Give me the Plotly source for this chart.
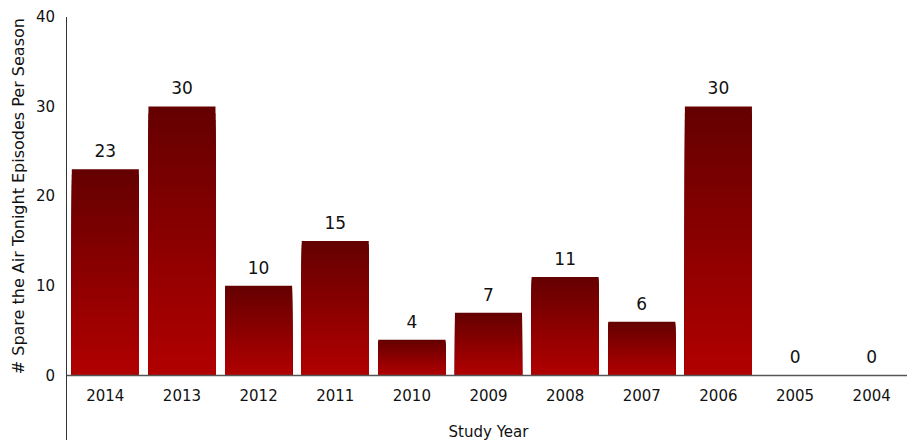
import plotly.graph_objects as go

# Data
years = ['2014', '2013', '2012', '2011', '2010', '2009', '2008', '2007', '2006', '2005', '2004']
episodes = [23, 30, 10, 15, 4, 7, 11, 6, 30, 0, 0]

FONT = 'DejaVu Sans'
TOP_RGB = (0x64, 0x00, 0x00)
BOTTOM_RGB = (0xB2, 0x00, 0x00)
N_STEPS = 40


def blend(t):
    # t=0 bottom, t=1 top
    r, g, b = (round(BOTTOM_RGB[i] + (TOP_RGB[i] - BOTTOM_RGB[i]) * t) for i in range(3))
    return f'rgb({r},{g},{b})'


fig = go.Figure()

# Vertical gradient: overlay progressively shorter copies of each bar,
# darkest (full height) first, brightest (shortest) last
for k in range(N_STEPS):
    frac = (N_STEPS - k) / N_STEPS
    fig.add_trace(go.Bar(
        x=years,
        y=[v * frac for v in episodes],
        marker=dict(color=blend(frac - 0.5 / N_STEPS), line=dict(width=0)),
        width=0.875,
        hoverinfo='skip',
        showlegend=False,
    ))

# Value labels above the bars
fig.add_trace(go.Scatter(
    x=years,
    y=episodes,
    mode='markers+text',
    marker=dict(size=11, color='rgba(0,0,0,0)'),
    text=[str(v) for v in episodes],
    textposition='top center',
    textfont=dict(family=FONT, size=17, color='#111111'),
    hoverinfo='skip',
    showlegend=False,
))

# Baseline at zero
fig.add_shape(type='line', xref='paper', yref='y', x0=0, x1=1.02, y0=0, y1=0,
              line=dict(color='#555555', width=1.5))

# Y title centred on the 0-40 span rather than the whole axis line
fig.add_annotation(
    text='# Spare the Air Tonight Episodes Per Season',
    xref='paper', yref='y', x=0, y=20, xshift=-49,
    xanchor='center', yanchor='middle', textangle=-90, showarrow=False,
    font=dict(family=FONT, size=16, color='#111111'),
)

ymin = -7.2
fig.update_layout(
    width=915, height=442,
    # page body has an 8px default margin, so offsets are reduced by 8
    margin=dict(l=59, r=13, t=9, b=10),
    plot_bgcolor='white', paper_bgcolor='white',
    barmode='overlay',
    font=dict(family=FONT, color='#111111'),
    xaxis=dict(
        type='category',
        range=[-0.5, len(years) - 0.5],
        anchor='free',
        position=(0 - ymin) / (40 - ymin),
        automargin=False,
        showline=False, showgrid=False, zeroline=False,
        ticks='', tickfont=dict(size=15),
        ticklabelstandoff=10,
        title=dict(text='Study Year', font=dict(size=15), standoff=22),
    ),
    yaxis=dict(
        range=[ymin, 40],
        tickvals=[0, 10, 20, 30, 40],
        automargin=False,
        showline=True, linecolor='#333333', linewidth=1,
        showgrid=False, zeroline=False,
        ticks='', tickfont=dict(size=15),
        ticklabelstandoff=8,
    ),
)

fig.write_html('out.html')
